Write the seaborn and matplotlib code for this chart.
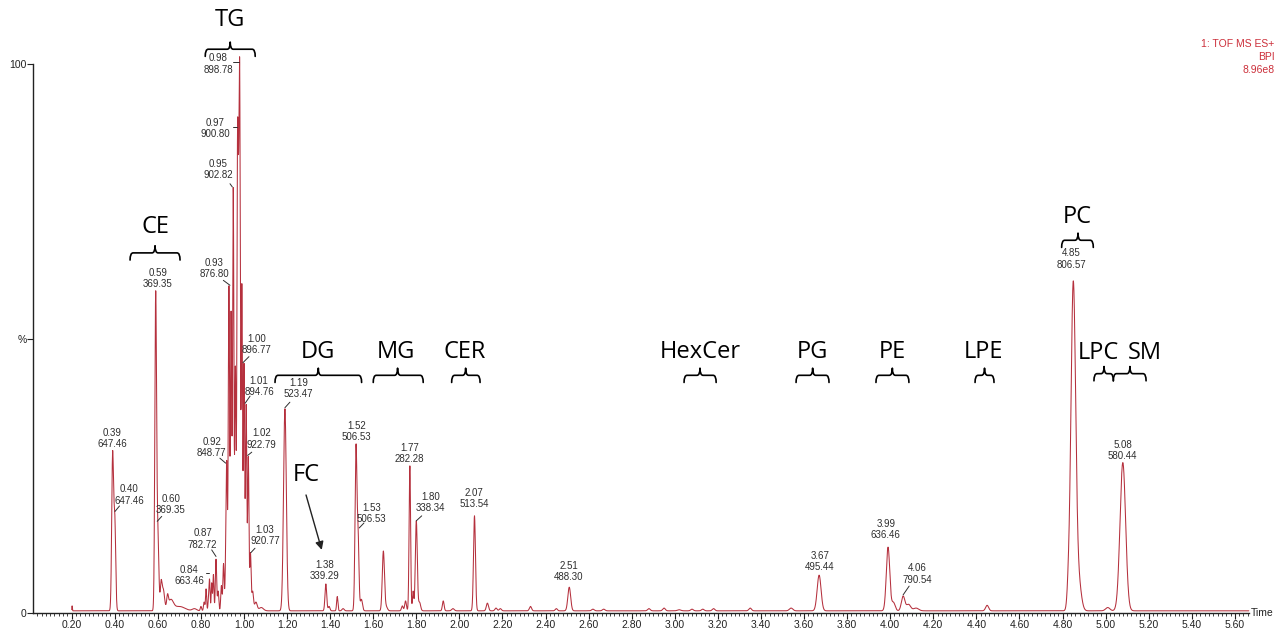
import numpy as np
import pandas as pd
import matplotlib
matplotlib.use("Agg")
import matplotlib.pyplot as plt
from matplotlib.path import Path
from matplotlib.patches import PathPatch
from matplotlib.ticker import FixedLocator, MultipleLocator
import seaborn as sns

# ---------------------------------------------------------------------------
# Base peak intensity chromatogram (BPI, % of 8.96e8), time in minutes
# ---------------------------------------------------------------------------
baseline = 0.4

# peak apex retention time (min), relative intensity (%), peak sigma (min)
peak_rt = [0.202, 0.39, 0.40, 0.59, 0.60, 0.615, 0.625, 0.645, 0.66, 0.70, 0.77,
           0.80, 0.815, 0.824, 0.835, 0.84, 0.85, 0.858, 0.87, 0.88, 0.895, 0.905,
           0.915, 0.92, 0.93, 0.94, 0.95, 0.96, 0.97, 0.975, 0.98, 0.99, 1.00,
           1.01, 1.02, 1.03, 1.04, 1.055, 1.08,
           1.19, 1.205, 1.38, 1.395, 1.433, 1.46, 1.52, 1.53, 1.545, 1.647, 1.66,
           1.735, 1.75, 1.77, 1.785, 1.80, 1.815, 1.925, 1.97, 2.07, 2.13, 2.17,
           2.19, 2.33, 2.45, 2.51, 2.62, 2.67, 2.88, 2.95, 3.02, 3.08, 3.13, 3.18,
           3.35, 3.54, 3.67, 3.99, 4.015, 4.06, 4.085, 4.12, 4.45, 4.827, 4.85,
           4.875, 5.01, 5.08]
peak_height = [1.3, 29.5, 18.4, 58.7, 16.6, 6.0, 4.5, 3.5, 2.5, 1.2, 0.8,
               1.2, 2.0, 4.4, 3.0, 6.2, 5.5, 7.0, 9.8, 4.0, 5.0, 9.0,
               14.0, 27.7, 59.6, 55.0, 77.5, 45.0, 88.6, 84.0, 100.0, 60.0, 45.5,
               38.0, 28.5, 11.0, 4.0, 2.0, 1.0,
               37.2, 2.0, 5.3, 1.2, 3.0, 0.8, 30.8, 15.3, 2.5, 11.3, 1.5,
               1.3, 2.2, 26.8, 4.0, 16.8, 2.0, 2.2, 0.8, 17.7, 1.8, 0.9,
               0.8, 1.2, 0.8, 4.7, 0.7, 0.7, 0.8, 0.9, 0.6, 0.7, 0.7, 0.8,
               0.9, 0.9, 6.9, 12.0, 2.0, 3.1, 1.6, 0.9, 1.4, 10.0, 60.5,
               10.0, 1.0, 27.4]
peak_sigma = [0.0012, 0.0042, 0.0042, 0.0040, 0.0045, 0.004, 0.006, 0.004, 0.012, 0.025, 0.01,
              0.003, 0.003, 0.0025, 0.0025, 0.0025, 0.0025, 0.0025, 0.003, 0.003, 0.003, 0.003,
              0.003, 0.003, 0.003, 0.003, 0.003, 0.003, 0.003, 0.0025, 0.003, 0.003, 0.003,
              0.003, 0.003, 0.003, 0.004, 0.006, 0.01,
              0.0065, 0.006, 0.004, 0.004, 0.003, 0.005, 0.0045, 0.004, 0.005, 0.005, 0.006,
              0.004, 0.004, 0.0035, 0.003, 0.0045, 0.005, 0.004, 0.006, 0.0045, 0.005, 0.005,
              0.005, 0.005, 0.005, 0.0065, 0.006, 0.006, 0.006, 0.006, 0.008, 0.006, 0.006, 0.006,
              0.006, 0.008, 0.009, 0.008, 0.008, 0.008, 0.01, 0.012, 0.007, 0.006, 0.011,
              0.012, 0.01, 0.013]

# annotated peaks: retention time / base peak m/z
annot_rt = [0.39, 0.40, 0.59, 0.60, 0.84, 0.87, 0.92, 0.93, 0.95, 0.97, 0.98,
            1.00, 1.01, 1.02, 1.03, 1.19, 1.38, 1.52, 1.53, 1.77, 1.80, 2.07,
            2.51, 3.67, 3.99, 4.06, 4.85, 5.08]
annot_mz = [647.46, 647.46, 369.35, 369.35, 663.46, 782.72, 848.77, 876.80, 902.82,
            900.80, 898.78, 896.77, 894.76, 922.79, 920.77, 523.47, 339.29, 506.53,
            506.53, 282.28, 338.34, 513.54, 488.30, 495.44, 636.46, 790.54, 806.57,
            580.44]

lipid_classes = ["TG", "CE", "DG", "MG", "CER", "HexCer", "PG", "PE", "LPE", "PC", "LPC", "SM"]

x_tick_values = [0.20, 0.40, 0.60, 0.80, 1.00, 1.20, 1.40, 1.60, 1.80, 2.00, 2.20, 2.40,
                 2.60, 2.80, 3.00, 3.20, 3.40, 3.60, 3.80, 4.00, 4.20, 4.40, 4.60, 4.80,
                 5.00, 5.20, 5.40, 5.60]

# ---------------------------------------------------------------------------
# Build the trace as a sum of peak profiles
# ---------------------------------------------------------------------------
rt = np.array(peak_rt)
target = np.array(peak_height) - baseline
sig = np.array(peak_sigma)
overlap = np.exp(-0.5 * ((rt[:, None] - rt[None, :]) / sig[None, :]) ** 2)
amp = target.copy()
for _ in range(300):
    amp = np.clip(amp + 0.5 * (target - overlap @ amp), 0, None)

time = np.round(np.arange(0.2, 5.6655, 0.0005), 4)
intensity = baseline + (amp[None, :] *
                        np.exp(-0.5 * ((time[:, None] - rt[None, :]) / sig[None, :]) ** 2)).sum(axis=1)
trace = pd.DataFrame({"Time": time, "Intensity": intensity})

# ---------------------------------------------------------------------------
# Figure
# ---------------------------------------------------------------------------
sns.set_style("ticks")
plt.rcParams["font.family"] = ["Liberation Sans", "DejaVu Sans"]

fig = plt.figure(figsize=(12.75, 6.31), dpi=100)
ax = fig.add_axes([0.02627, 0.0285, 0.9533, 0.8700])

line_color = "#b5303d"
sns.lineplot(data=trace, x="Time", y="Intensity", ax=ax, color=line_color,
             linewidth=0.75, estimator=None, errorbar=None, sort=False)
for ln in ax.lines:
    ln.set_clip_on(False)

ax.set_xlim(0.0227, 5.6656)
ax.set_ylim(0, 100)
ax.set_xlabel("")
ax.set_ylabel("")
sns.despine(ax=ax, top=True, right=True)
for sp in ("left", "bottom"):
    ax.spines[sp].set_linewidth(1.0)
    ax.spines[sp].set_color("#222222")

ax.xaxis.set_major_locator(FixedLocator(x_tick_values))
ax.set_xticklabels([f"{v:.2f}" for v in x_tick_values])
ax.xaxis.set_minor_locator(MultipleLocator(0.02))
ax.tick_params(axis="x", which="major", direction="out", length=4, width=0.8,
               labelsize=7.5, pad=0.8, colors="#222222")
ax.tick_params(axis="x", which="minor", direction="out", length=2.5, width=0.6, colors="#222222")
ax.set_yticks([0, 50, 100])
ax.set_yticklabels(["0", "%", "100"])
ax.tick_params(axis="y", direction="out", length=4, width=0.8, labelsize=7.5, pad=1,
               colors="#222222")

ax.text(1.0015, 0.0, "Time", transform=ax.transAxes, ha="left", va="center",
        fontsize=7.5, color="#222222")

# acquisition header
fig.text(0.9995, 0.930, "1: TOF MS ES+", ha="right", va="center", fontsize=7.5, color="#cc2f3a")
fig.text(0.9995, 0.910, "BPI", ha="right", va="center", fontsize=7.5, color="#cc2f3a")
fig.text(0.9995, 0.889, "8.96e8", ha="right", va="center", fontsize=7.5, color="#cc2f3a")

# ---------------------------------------------------------------------------
# Peak labels: (label centre time, label centre %, leader start, leader end)
# ---------------------------------------------------------------------------
label_layout = [
    (0.387, 31.8, None),
    (0.466, 21.5, ((0.401, 18.5), (0.422, 19.5))),
    (0.600, 61.0, None),
    (0.660, 19.7, ((0.597, 16.7), (0.618, 17.6))),
    (0.746, 6.8, ((0.823, 7.3), (0.838, 7.3))),
    (0.808, 13.5, ((0.850, 11.5), (0.870, 10.3))),
    (0.850, 30.2, ((0.888, 28.2), (0.915, 27.3))),
    (0.862, 62.8, ((0.904, 60.6), (0.935, 59.7))),
    (0.881, 80.8, ((0.935, 78.2), (0.946, 77.6))),
    (0.865, 88.3, ((0.950, 88.6), (0.969, 88.6))),
    (0.881, 100.0, ((0.950, 100.4), (0.975, 100.4))),
    (1.060, 48.9, ((0.995, 45.6), (1.023, 46.7))),
    (1.070, 41.3, ((1.005, 38.2), (1.028, 39.5))),
    (1.082, 31.7, ((1.017, 28.7), (1.036, 29.3))),
    (1.097, 14.1, ((1.032, 11.0), (1.051, 11.8))),
    (1.252, 40.9, ((1.190, 37.4), (1.213, 38.4))),
    (1.376, 7.7, None),
    (1.523, 33.1, None),
    (1.593, 18.1, ((1.535, 15.5), (1.557, 16.4))),
    (1.767, 29.1, None),
    (1.867, 20.1, ((1.800, 16.8), (1.825, 17.7))),
    (2.069, 20.9, None),
    (2.509, 7.5, None),
    (3.674, 9.4, None),
    (3.980, 15.2, None),
    (4.124, 7.1, ((4.060, 3.3), (4.088, 4.9))),
    (4.840, 64.5, None),
    (5.079, 29.6, None),
]
label_color = "#2e2e2e"
for r, mz, (lx, ly, leader) in zip(annot_rt, annot_mz, label_layout):
    ax.text(lx, ly, f"{r:.2f}\n{mz:.2f}", ha="center", va="center", fontsize=7,
            color=label_color, linespacing=1.15, clip_on=False)
    if leader is not None:
        (x0, y0), (x1, y1) = leader
        ax.plot([x0, x1], [y0, y1], color=label_color, lw=0.7, clip_on=False)

# ---------------------------------------------------------------------------
# Lipid class brackets
# ---------------------------------------------------------------------------
def brace(ax, t0, t1, tc, p, r=0.014, d=1.3):
    verts = [(t0, p - d), (t0, p), (t0 + r, p),
             (tc - r, p), (tc, p), (tc, p + d),
             (tc, p), (tc + r, p),
             (t1 - r, p), (t1, p), (t1, p - d)]
    codes = [Path.MOVETO, Path.CURVE3, Path.CURVE3,
             Path.LINETO, Path.CURVE3, Path.CURVE3,
             Path.CURVE3, Path.CURVE3,
             Path.LINETO, Path.CURVE3, Path.CURVE3]
    ax.add_patch(PathPatch(Path(verts, codes), fill=False, lw=1.2, ec="black",
                           clip_on=False, capstyle="round", joinstyle="round"))

# (text time, text %, brace start, brace end, brace centre, brace %)
class_layout = {
    "TG": (0.936, 108.0, 0.820, 1.052, 0.936, 102.7),
    "CE": (0.587, 70.4, 0.471, 0.703, 0.587, 65.6),
    "DG": (1.345, 47.6, 1.144, 1.546, 1.345, 43.3),
    "MG": (1.706, 47.6, 1.600, 1.832, 1.713, 43.3),
    "CER": (2.026, 47.6, 1.964, 2.096, 2.029, 43.3),
    "HexCer": (3.117, 47.6, 3.043, 3.192, 3.117, 43.3),
    "PG": (3.637, 47.6, 3.563, 3.716, 3.640, 43.3),
    "PE": (4.008, 47.6, 3.934, 4.087, 4.010, 43.3),
    "LPE": (4.431, 47.6, 4.394, 4.482, 4.438, 43.3),
    "PC": (4.870, 72.1, 4.796, 4.943, 4.872, 67.9),
    "LPC": (4.965, 47.3, 4.946, 5.036, 4.993, 43.6),
    "SM": (5.183, 47.3, 5.036, 5.188, 5.113, 43.6),
}
for name in lipid_classes:
    tx, ty, b0, b1, bc, bp = class_layout[name]
    ax.text(tx, ty, name, ha="center", va="center", fontsize=17, color="black",
            family=["Open Sans", "DejaVu Sans"], clip_on=False)
    brace(ax, b0, b1, bc, bp)

# free cholesterol marker
ax.text(1.291, 25.1, "FC", ha="center", va="center", fontsize=17, color="black",
        family=["Open Sans", "DejaVu Sans"])
ax.annotate("", xy=(1.361, 11.5), xytext=(1.288, 21.5),
            arrowprops=dict(arrowstyle="-|>", color="#222222", lw=1.0,
                            mutation_scale=12, shrinkA=0, shrinkB=0))

fig.savefig("out.png", dpi=100)
